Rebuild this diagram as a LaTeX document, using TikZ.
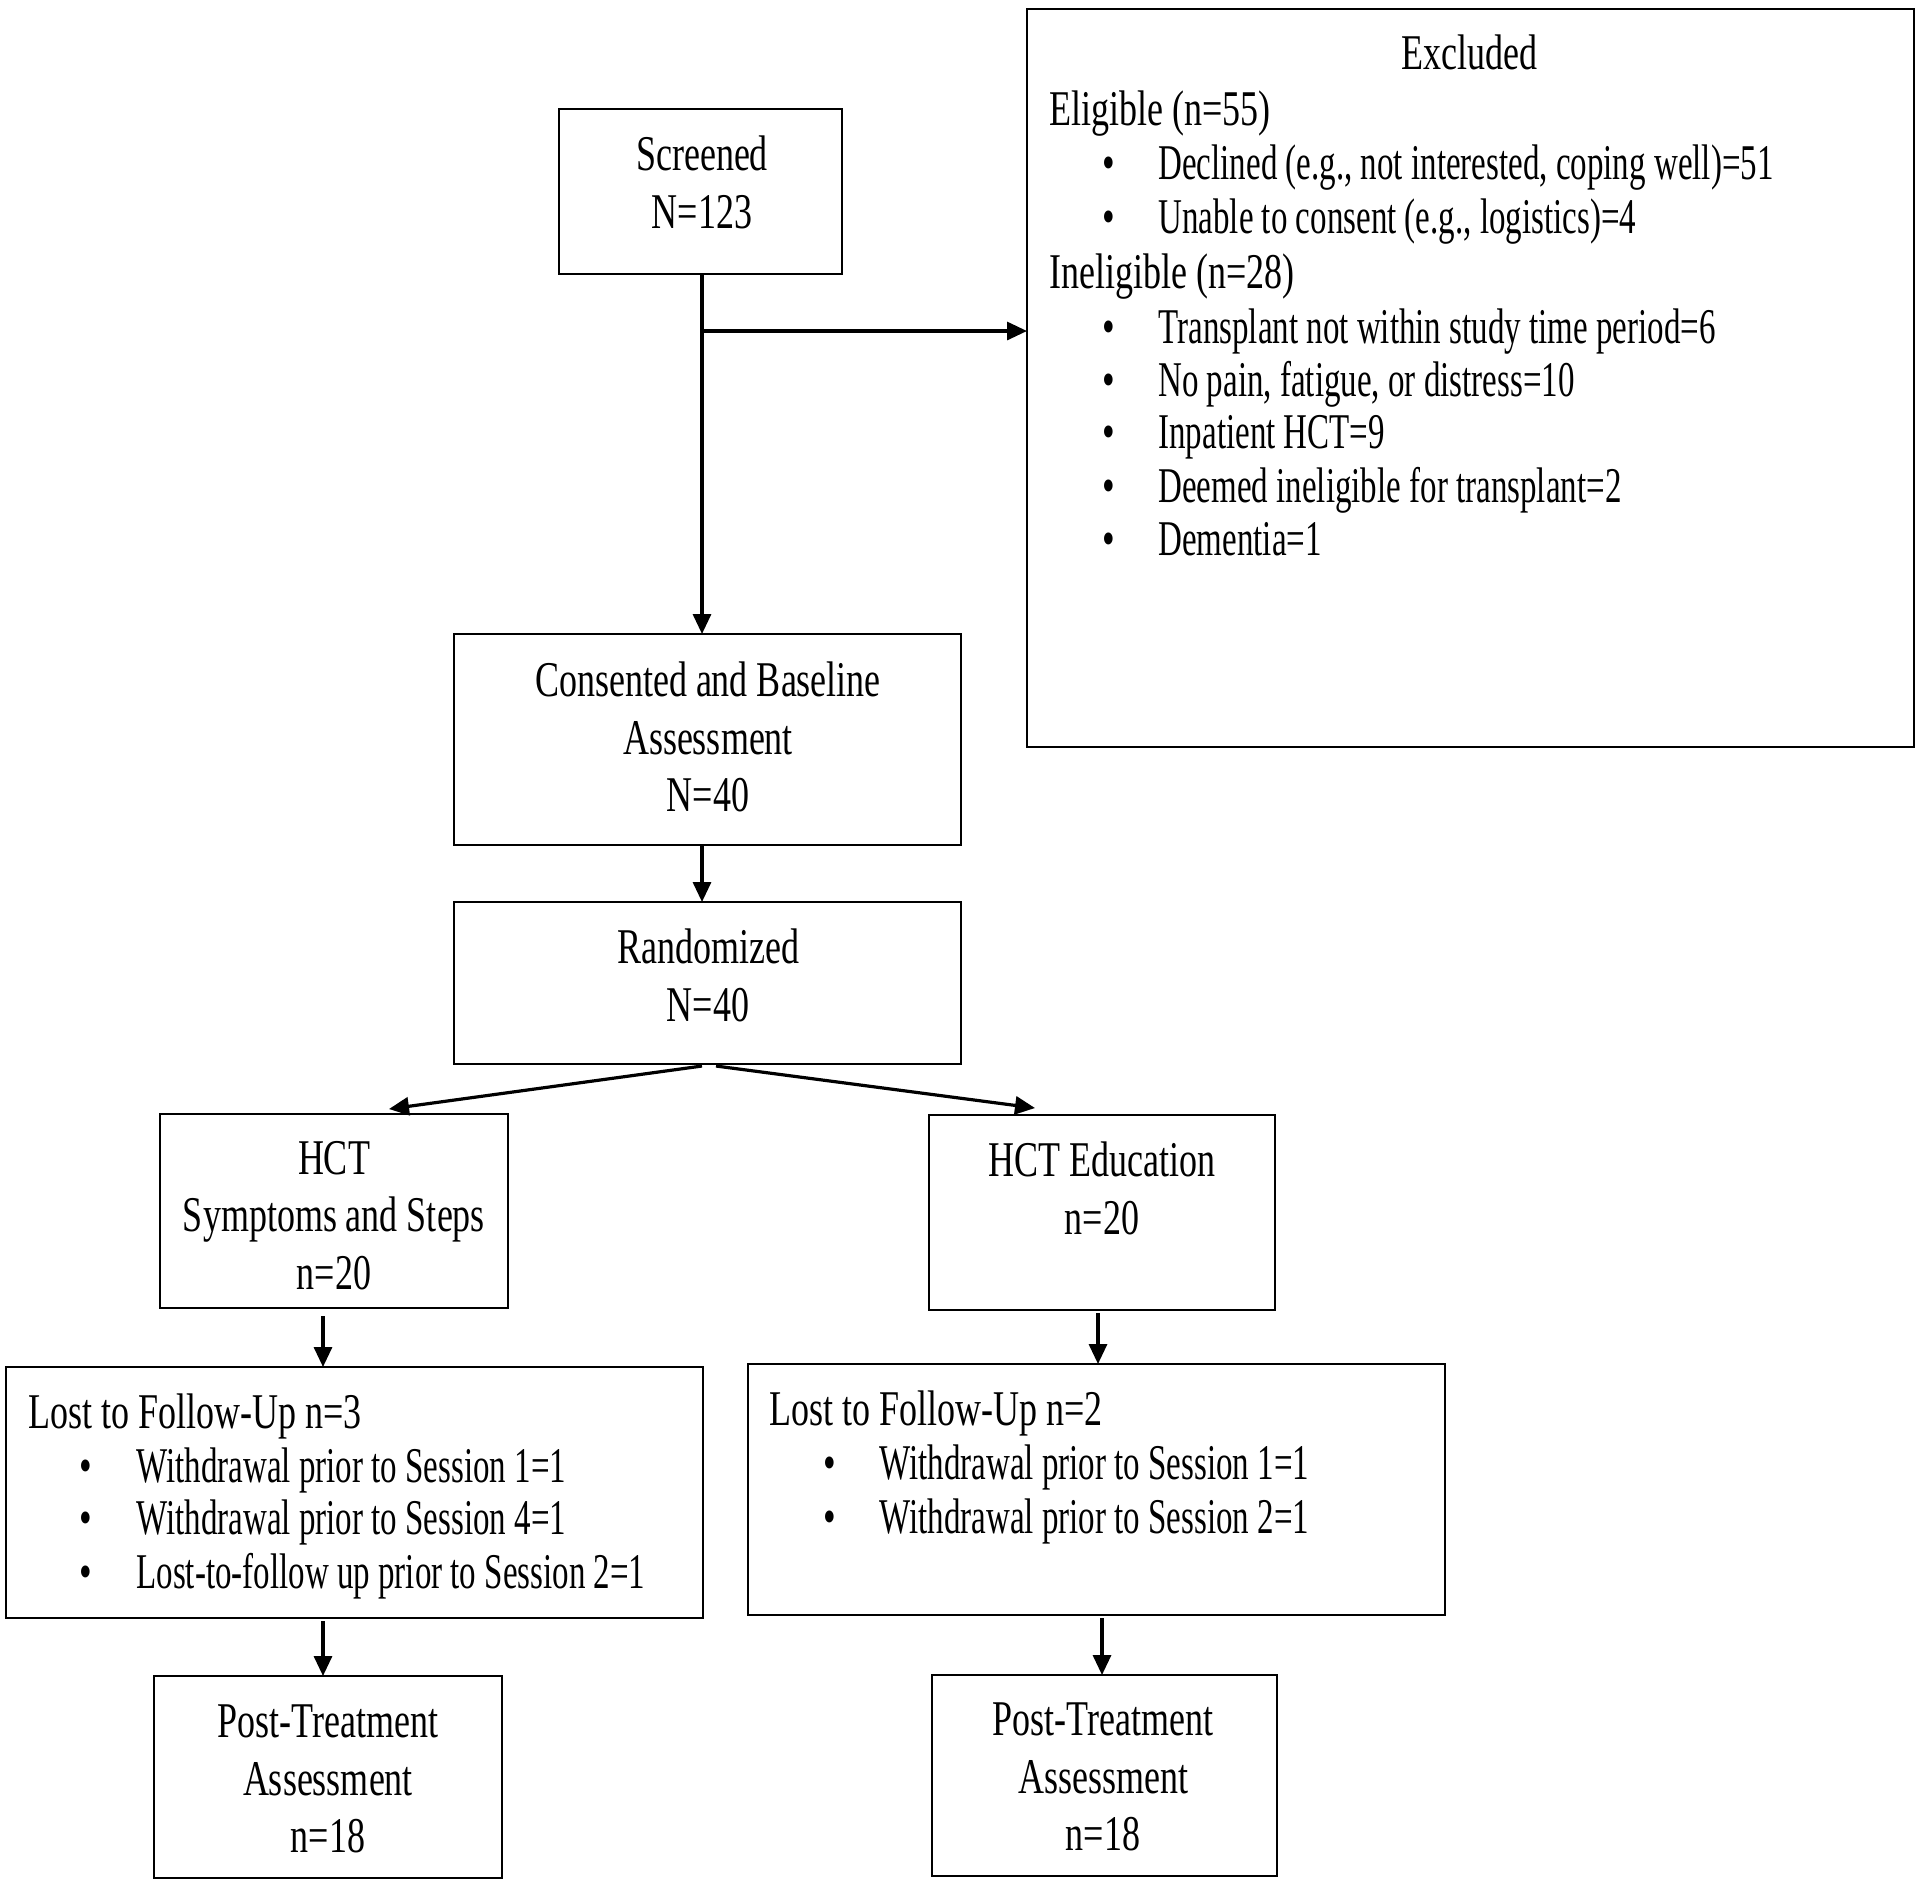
\documentclass[tikz,border=0pt]{standalone}
\usepackage{fontspec}
\setmainfont{Liberation Serif}[FakeStretch=0.72]
\newfontfamily\narrowfont{Liberation Serif}[FakeStretch=0.66]
\usetikzlibrary{arrows.meta,fit,calc}
\begin{document}
\begin{tikzpicture}[x=0.5pt,y=-0.5pt,
  box/.style={draw,line width=1.4pt,inner sep=0pt,outer sep=0pt},
  ctext/.style={align=center,inner sep=0pt,font=\fontsize{25pt}{28.8pt}\selectfont},
  ltext/.style={anchor=base west,inner sep=0pt,font=\fontsize{25pt}{28.8pt}\selectfont},
  itext/.style={anchor=base west,inner sep=0pt,font=\narrowfont\fontsize{25pt}{28.8pt}\selectfont},
  bul/.style={anchor=base,inner sep=0pt,font=\fontsize{25pt}{28.8pt}\selectfont},
  arr/.style={line width=1.6pt,-{Triangle[length=10pt,width=9pt]}}]
\useasboundingbox (0,0) rectangle (1920,1887);
% boxes
\node[box,fit={(559,109) (842,274)}] (scr) {};
\node[box,fit={(1027,9) (1914,747)}] (exc) {};
\node[box,fit={(454,634) (961,845)}] (con) {};
\node[box,fit={(454,902) (961,1064)}] (ran) {};
\node[box,fit={(160,1114) (508,1308)}] (hss) {};
\node[box,fit={(929,1115) (1275,1310)}] (hed) {};
\node[box,fit={(6,1367) (703,1618)}] (lo1) {};
\node[box,fit={(748,1364) (1445,1615)}] (lo2) {};
\node[box,fit={(154,1676) (502,1878)}] (po1) {};
\node[box,fit={(932,1675) (1277,1876)}] (po2) {};
% centred texts
\node[ctext] (tscr) at (702,182.5) {Screened\\N=123};
\node[ctext] (tcon) at (708,737) {Consented and Baseline\\Assessment\\N=40};
\node[ctext] (tran) at (708,975.5) {Randomized\\N=40};
\node[ctext] (thss) at (334,1215.5) {HCT\\Symptoms and Steps\\n=20};
\node[ctext] (thed) at (1102,1188.5) {HCT Education\\n=20};
\node[ctext] (tpo1) at (328,1779) {Post-Treatment\\Assessment\\n=18};
\node[ctext] (tpo2) at (1103,1777) {Post-Treatment\\Assessment\\n=18};
% excluded list
\node[bul] (ex0) at (1469,69) {Excluded};
\node[ltext] (ex1) at (1049,125) {Eligible (n=55)};
\node[bul] (eb2) at (1109,179) {•};
\node[itext] (ex2) at (1158,179) {Declined (e.g., not interested, coping well)=51};
\node[bul] (eb3) at (1109,233) {•};
\node[itext] (ex3) at (1158,233) {Unable to consent (e.g., logistics)=4};
\node[ltext] (ex4) at (1049,288) {Ineligible (n=28)};
\node[bul] (eb5) at (1109,343) {•};
\node[itext] (ex5) at (1158,343) {Transplant not within study time period=6};
\node[bul] (eb6) at (1109,396) {•};
\node[itext] (ex6) at (1158,396) {No pain, fatigue, or distress=10};
\node[bul] (eb7) at (1109,448) {•};
\node[itext] (ex7) at (1158,448) {Inpatient HCT=9};
\node[bul] (eb8) at (1109,502) {•};
\node[itext] (ex8) at (1158,502) {Deemed ineligible for transplant=2};
\node[bul] (eb9) at (1109,555) {•};
\node[itext] (ex9) at (1158,555) {Dementia=1};
% lost lists
\node[ltext] (la0) at (28,1428) {Lost to Follow-Up n=3};
\node[bul] (lab1) at (86,1482) {•};
\node[itext] (la1) at (136,1482) {Withdrawal prior to Session 1=1};
\node[bul] (lab2) at (86,1534) {•};
\node[itext] (la2) at (136,1534) {Withdrawal prior to Session 4=1};
\node[bul] (lab3) at (86,1588) {•};
\node[itext] (la3) at (136,1588) {Lost-to-follow up prior to Session 2=1};
\node[ltext] (lb0) at (769,1425) {Lost to Follow-Up n=2};
\node[bul] (lbb1) at (830,1479) {•};
\node[itext] (lb1) at (879,1479) {Withdrawal prior to Session 1=1};
\node[bul] (lbb2) at (830,1533) {•};
\node[itext] (lb2) at (879,1533) {Withdrawal prior to Session 2=1};
% connectors
\coordinate (s0) at ($(scr.south)+(1.5,0)$);
\coordinate (br) at ($(scr.south)+(1.5,57)$);
\draw[arr] (s0) -- (s0 |- con.north);
\draw[arr] (br) -- (br -| exc.west);
\draw[arr] (con.south -| s0) -- (ran.north -| s0);
\draw[arr] ($(ran.south)+(-5.5,2)$) -- ($(hss.north west)+(229,-5)$);
\draw[arr] ($(ran.south)+(8.5,2)$) -- ($(hed.north west)+(106,-7)$);
\coordinate (a1) at ($(hss.south)+(-11,8)$);
\draw[arr] (a1) -- (a1 |- lo1.north);
\coordinate (a2) at ($(lo1.south west)+(317,3)$);
\draw[arr] (a2) -- (a2 |- po1.north);
\coordinate (a3) at ($(hed.south)+(-4,3)$);
\draw[arr] (a3) -- (a3 |- lo2.north);
\coordinate (a4) at ($(lo2.south west)+(354,3)$);
\draw[arr] (a4) -- (a4 |- po2.north);
\end{tikzpicture}
\end{document}
